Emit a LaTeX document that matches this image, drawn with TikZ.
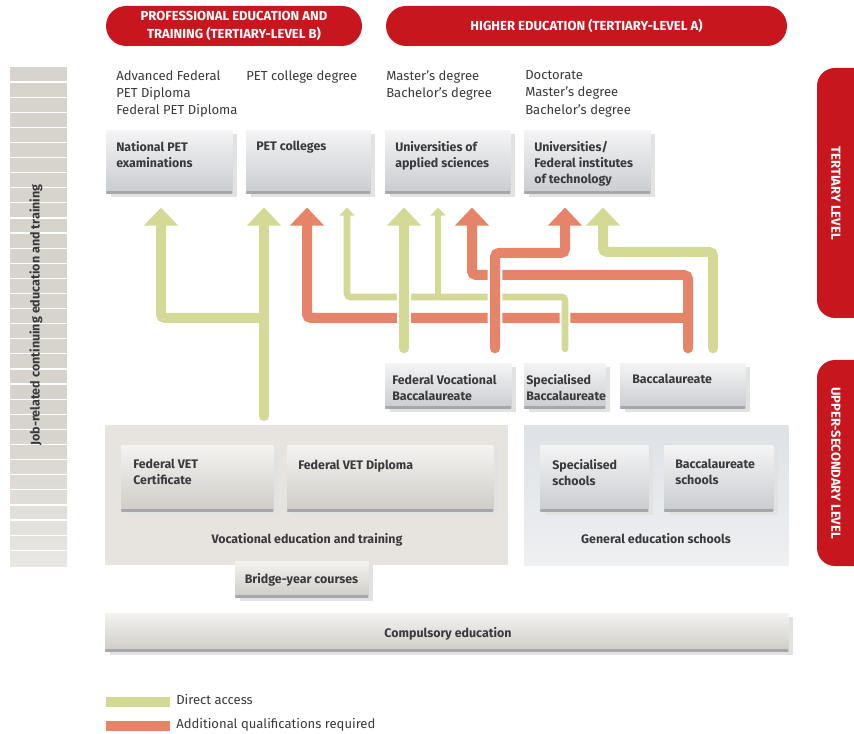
\documentclass[tikz,border=0pt]{standalone}
\usepackage{fontspec}
\setmainfont{Fira Sans}
\usetikzlibrary{arrows.meta,shadows}

\definecolor{edred}{RGB}{200,22,30}
\definecolor{accgreen}{RGB}{212,217,150}
\definecolor{addorange}{RGB}{229,132,104}
\definecolor{ink}{RGB}{58,58,60}
\definecolor{coolTop}{RGB}{244,244,245}
\definecolor{coolBot}{RGB}{201,204,208}
\definecolor{warmTop}{RGB}{244,243,241}
\definecolor{warmBot}{RGB}{207,204,198}
\definecolor{edgeline}{RGB}{165,167,170}
\definecolor{shadowgray}{RGB}{226,226,226}
\definecolor{vetfill}{RGB}{231,228,223}
\definecolor{gesTop}{RGB}{222,226,230}
\definecolor{gesBot}{RGB}{238,240,242}
\definecolor{stripbar}{RGB}{215,212,205}
\definecolor{stripfade}{RGB}{233,231,227}

\begin{document}
\begin{tikzpicture}[x=0.75pt,y=-0.75pt,
  every node/.style={inner sep=0pt, text=ink},
  card/.style 2 args={anchor=north west, minimum width=#1*0.75pt, minimum height=#2*0.75pt,
     general shadow={fill=shadowgray, shadow xshift=3.5pt, shadow yshift=-3pt},
     path picture={\draw[edgeline, line width=3pt] (path picture bounding box.south west) -- (path picture bounding box.south east);}},
  panel/.style 2 args={anchor=north west, minimum width=#1*0.75pt, minimum height=#2*0.75pt},
  cool/.style={top color=coolTop, bottom color=coolBot},
  warm/.style={top color=warmTop, bottom color=warmBot},
  cardtext/.style={anchor=north west, align=left, font=\bfseries\fontsize{9.3}{12}\selectfont},
  degtext/.style={anchor=north west, align=left, font=\fontsize{9.8}{13.1}\selectfont},
  pill/.style={fill=edred, rounded corners=15pt},
  pilltext/.style={text=white, font=\bfseries\fontsize{9.8}{13.5}\selectfont, align=center},
  link/.style={line width=7.5pt, rounded corners=3pt, line cap=round, shorten >=10.5pt,
     -{Triangle[width=24.75pt,length=13.5pt]}},
  slim/.style={line width=4.9pt, rounded corners=2.5pt, line cap=round, shorten >=10.5pt,
     -{Triangle[width=11pt,length=6pt]}},
  halo/.style={preaction={draw=white, line width=#1, arrows=-}},
]
\useasboundingbox (0,0) rectangle (854,734);

% ---------- headers ----------
\node[pill, minimum width=256*0.75pt, minimum height=40*0.75pt, pilltext] (peth) at (234,26)
  {PROFESSIONAL EDUCATION AND\\TRAINING (TERTIARY-LEVEL B)};
\node[pill, minimum width=401*0.75pt, minimum height=40*0.75pt, pilltext] (heh) at (586.5,26)
  {HIGHER EDUCATION (TERTIARY-LEVEL A)};

% ---------- level markers on the right ----------
\begin{scope}
  \clip (0,0) rectangle (854,734);
  \fill[edred, rounded corners=13.5pt] (817,68) rectangle (880,318);
  \fill[edred, rounded corners=13.5pt] (817,360) rectangle (880,566);
\end{scope}
\node[pilltext, rotate=-90] (tertL) at (836,193) {TERTIARY LEVEL};
\node[pilltext, rotate=-90] (upsecL) at (836,463) {UPPER-SECONDARY LEVEL};

% ---------- continuing education bar ----------
\fill[stripbar] (10,67) rectangle (67,430);
\shade[top color=stripbar, bottom color=stripfade] (10,430) rectangle (67,566);
\foreach \k in {1,...,32}
  \draw[white, line width=0.9pt] (10,67+\k*15.1) -- (67,67+\k*15.1);
\node[rotate=90, font=\bfseries\fontsize{9.4}{11}\selectfont] (jobL) at (36,315)
  {Job-related continuing education and training};

% ---------- degrees ----------
\node[degtext] (degA) at (116,70) {Advanced Federal\\PET Diploma\\Federal PET Diploma};
\node[degtext] (degB) at (246,70) {PET college degree};
\node[degtext] (degC) at (386,70) {Master's degree\\Bachelor's degree};
\node[degtext] (degD) at (525,70) {Doctorate\\Master's degree\\Bachelor's degree};

% ---------- tertiary institutions ----------
\node[card={126}{63}, cool] (npe) at (106,130) {};
\node[cardtext] (npeL) at ([shift={(10,11)}]npe.north west) {National PET\\examinations};
\node[card={124}{63}, cool] (petc) at (246,130) {};
\node[cardtext] (petcL) at ([shift={(10,11)}]petc.north west) {PET colleges};
\node[card={125}{63}, cool] (uas) at (385,130) {};
\node[cardtext] (uasL) at ([shift={(10,11)}]uas.north west) {Universities of\\applied sciences};
\node[card={126}{63}, cool] (uni) at (524,130) {};
\node[cardtext] (uniL) at ([shift={(10,11)}]uni.north west) {Universities/\\Federal institutes\\of technology};

% ---------- upper-secondary certificates ----------
\node[card={126}{45}, cool] (fvb) at (385,363) {};
\node[cardtext] (fvbL) at ([shift={(7,11)}]fvb.north west) {Federal Vocational\\Baccalaureate};
\node[card={81}{45}, cool] (sb) at (524,363) {};
\node[cardtext] (sbL) at ([shift={(2,11)}]sb.north west) {Specialised\\Baccalaureate};
\node[card={125}{45}, cool] (bac) at (620,363) {};
\node[cardtext] (bacL) at ([shift={(12,11)}]bac.north west) {Baccalaureate};

% ---------- upper-secondary schools ----------
\node[panel={403}{140}, fill=vetfill] (vet) at (105,425) {};
\node[card={152}{66}, warm] (fvc) at (121,445) {};
\node[cardtext] (fvcL) at ([shift={(12,14)}]fvc.north west) {Federal VET\\Certificate};
\node[card={206}{66}, warm] (fvd) at (287,445) {};
\node[cardtext] (fvdL) at ([shift={(11,14)}]fvd.north west) {Federal VET Diploma};
\node[anchor=base, font=\bfseries\fontsize{9.3}{12}\selectfont] (vetL) at (307,543) {Vocational education and training};

\node[panel={264}{140}, top color=gesTop, bottom color=gesBot] (ges) at (524,425) {};
\node[card={108}{66}, cool] (ss) at (540,445) {};
\node[cardtext] (ssL) at ([shift={(12,14)}]ss.north west) {Specialised\\schools};
\node[card={109}{66}, cool] (bs) at (664,445) {};
\node[cardtext] (bsL) at ([shift={(11,14)}]bs.north west) {Baccalaureate\\schools};
\node[anchor=base, font=\bfseries\fontsize{9.3}{12}\selectfont] (gesL) at (656,543) {General education schools};

\node[card={133}{36}, warm] (bridge) at (235,561) {};
\node[anchor=base, font=\bfseries\fontsize{9.3}{12}\selectfont] (bridgeL) at (301.5,583) {Bridge-year courses};

\node[card={683}{38}, warm] (comp) at (105,613) {};
\node[anchor=base, font=\bfseries\fontsize{9.3}{12}\selectfont] (compL) at (448,637) {Compulsory education};

% ---------- access paths ----------
% from vocational education and training
\draw[link, accgreen, shorten <=6.75pt] (264,0 |- vet.north) -- (264,0 |- petc.south);
\draw[link, accgreen] (264,318) -| (161,0 |- npe.south);
% from the Baccalaureate (additional qualifications)
\draw[link, addorange, shorten <=11pt] (688,0 |- bac.north) -- (688,275) -| (472,0 |- uas.south);
\draw[link, addorange] (688,318) -| (307,0 |- petc.south);
% from the Specialised Baccalaureate
\draw[slim, accgreen, halo=7.9pt, shorten <=10.5pt] (565,0 |- sb.north) -- (565,297) -| (347,0 |- petc.south);
\draw[slim, accgreen] (438,297) -- (438,0 |- uas.south);
% from the Federal Vocational Baccalaureate
\draw[link, accgreen, halo=11pt, shorten <=11pt] (404,0 |- fvb.north) -- (404,0 |- uas.south);
\draw[link, addorange, halo=11pt, shorten <=11pt] (495,0 |- fvb.north) -- (495,253) -| (565,0 |- uni.south);
% from the Baccalaureate (direct access)
\draw[link, accgreen, shorten <=11pt] (713,0 |- bac.north) -- (713,252) -| (603,0 |- uni.south);

% ---------- legend ----------
\node[anchor=north west, fill=accgreen, minimum width=64*0.75pt, minimum height=10*0.75pt] (legA) at (106,697) {};
\node[anchor=base west, font=\fontsize{9.8}{12}\selectfont] (legAL) at (176,704) {Direct access};
\node[anchor=north west, fill=addorange, minimum width=64*0.75pt, minimum height=10*0.75pt] (legB) at (106,721) {};
\node[anchor=base west, font=\fontsize{9.8}{12}\selectfont] (legBL) at (176,728) {Additional qualifications required};
\end{tikzpicture}
\end{document}
